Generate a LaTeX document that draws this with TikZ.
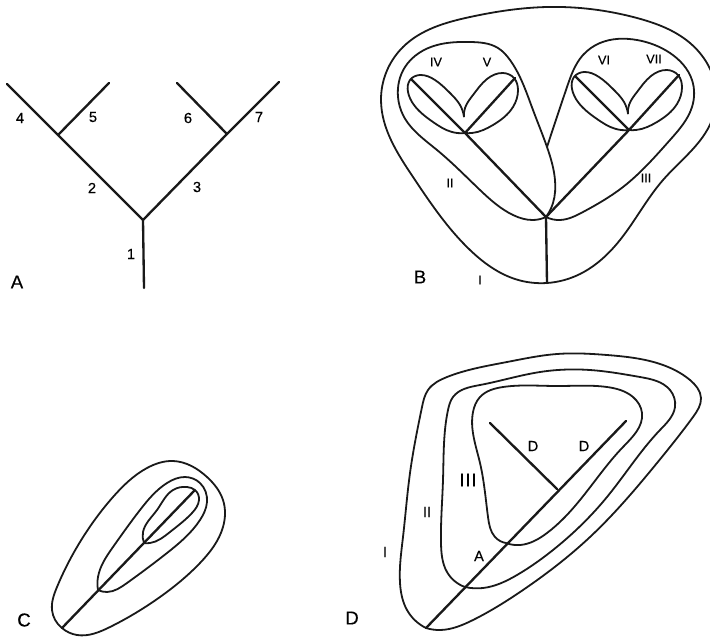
\documentclass[tikz,border=0pt]{standalone}
\usepackage{fontspec}
\usetikzlibrary{hobby}
\setmainfont{Liberation Sans}
\newfontfamily\labfont{Liberation Sans}[FakeBold=0.35]
\tikzset{
  branch/.style={line width=1.75pt,line cap=round,line join=round,black!90},
  outline/.style={line width=1.35pt,line join=round,black!90,use Hobby shortcut},
  lab/.style={inner sep=0pt,font=\labfont\fontsize{11}{12}\selectfont},
  roman/.style={inner sep=0pt,font=\labfont\fontsize{9.5}{10}\selectfont},
  panel/.style={inner sep=0pt,font=\labfont\fontsize{14}{15}\selectfont}
}
\newcommand{\leafpair}{%
  \coordinate (lj) at (465,133);
  \coordinate (lt1) at (412,80);
  \coordinate (lt2) at (515,78);
  \coordinate (ln) at (464,117);
  \draw[branch] (lj) -- (lt1);
  \draw[branch] (lj) -- (lt2);
  \draw[outline] (ln) .. (460,105) .. (450,93) .. (435,80) .. (420,75) .. (410,80) .. (408,92) .. (414,105) .. (433,122) .. (452,132) .. (lj);
  \draw[outline] (lj) .. (472,133) .. (493,125) .. (513,107) .. (518,90) .. (514,78) .. (503,73) .. (487,79) .. (473,95) .. (465,108) .. (ln);
}
\begin{document}
\begin{tikzpicture}[x=0.75pt,y=-0.75pt]
\useasboundingbox (0,0) rectangle (710,636);
% A
\coordinate (a0) at (144,288); \coordinate (a1) at (143,220);
\coordinate (a2) at (58,135); \coordinate (a3) at (227,134);
\coordinate (a4) at (7,84); \coordinate (a5) at (109,83);
\coordinate (a6) at (177,83); \coordinate (a7) at (279,82);
\draw[branch] (a0) -- (a1);
\draw[branch] (a4) -- (a2) -- (a1) -- (a3) -- (a7);
\draw[branch] (a2) -- (a5);
\draw[branch] (a3) -- (a6);
\node[lab] (n4) at (20,118) {4};
\node[lab] (n5) at (93,117) {5};
\node[lab] (n6) at (188,118) {6};
\node[lab] (n7) at (259,117) {7};
\node[lab] (n2) at (92,188) {2};
\node[lab] (n3) at (197,187) {3};
\node[lab] (n1) at (131,254) {1};
\node[panel] (pa) at (17,282) {A};
% B
\coordinate (b0) at (547,283); \coordinate (bj) at (546,217);
\draw[outline,closed=true] (547,283) .. (515,279) .. (470,250) .. (413,177) .. (381,100) .. (403,47) .. (470,17) .. (547,7) .. (637,18) .. (690,43) .. (716,90) .. (712,120) .. (663,180) .. (620,240) .. (580,274);
\draw[outline] (bj) .. (533,220) .. (513,215) .. (480,190) .. (437,150) .. (403,115) .. (398,97) .. (405,67) .. (437,45) .. (470,42) .. (498,48) .. (510,60) .. (533,110) .. (547,147) .. (555,180) .. (553,203) .. (bj);
\draw[outline] (bj) .. (560,220) .. (583,212) .. (623,187) .. (670,140) .. (692,107) .. (692,80) .. (670,53) .. (637,40) .. (600,43) .. (583,55) .. (567,87) .. (547,147);
\draw[branch] (b0) -- (bj);
\draw[branch] (465,133) -- (bj) -- (629,130);
\leafpair
\begin{scope}[shift={(164,-3)}]
\leafpair
\end{scope}
\node[roman] (biv) at (436,62) {IV};
\node[roman] (bv) at (487,62) {V};
\node[roman] (bvi) at (604,60) {VI};
\node[roman] (bvii) at (654,59) {VII};
\node[roman] (bii) at (450,183) {II};
\node[roman] (biii) at (646,178) {III};
\node[roman] (bi) at (480,280) {I};
\node[panel] (pb) at (420,277) {B};
% C
\coordinate (c0) at (62,628); \coordinate (c1) at (98,590);
\coordinate (c2) at (144,543); \coordinate (c3) at (194,491);
\draw[outline] (c0) .. (77,635) .. (110,627) .. (160,597) .. (200,563) .. (223,527) .. (223,500) .. (207,477) .. (173,461) .. (147,468) .. (113,497) .. (77,547) .. (57,587) .. (52,610) .. (c0);
\draw[outline] (c1) .. (107,592) .. (127,583) .. (167,553) .. (200,520) .. (207,502) .. (200,483) .. (185,477) .. (167,483) .. (140,510) .. (113,547) .. (98,577) .. (c1);
\draw[outline] (c2) .. (150,543) .. (170,532) .. (192,513) .. (199,500) .. (195,490) .. (187,487) .. (173,490) .. (157,510) .. (143,532) .. (c2);
\draw[branch] (c0) -- (c3);
\node[panel] (pc) at (24,620) {C};
% D
\coordinate (d0) at (426,628); \coordinate (d1) at (465,587);
\coordinate (d2) at (506,543); \coordinate (d3) at (557,489);
\coordinate (d4) at (626,421); \coordinate (d5) at (490,423);
\draw[outline] (d0) .. (440,630) .. (473,620) .. (523,590) .. (590,537) .. (657,463) .. (693,417) .. (701,398) .. (690,380) .. (657,363) .. (607,355) .. (557,354) .. (507,362) .. (447,377) .. (428,390) .. (422,407) .. (410,473) .. (403,537) .. (400,583) .. (407,610) .. (d0);
\draw[outline] (d1) .. (483,588) .. (517,575) .. (553,550) .. (607,497) .. (660,430) .. (675,407) .. (670,390) .. (640,377) .. (590,370) .. (540,372) .. (480,385) .. (453,397) .. (448,410) .. (443,480) .. (441,543) .. (447,572) .. (d1);
\draw[outline] (d2) .. (520,545) .. (547,533) .. (580,500) .. (623,447) .. (642,413) .. (633,397) .. (607,387) .. (557,386) .. (503,387) .. (480,397) .. (473,412) .. (480,463) .. (488,517) .. (495,537) .. (d2);
\draw[branch] (d0) -- (d4);
\draw[branch] (d5) -- (d3);
\node[lab] (dd1) at (533,446) {D};
\node[lab] (dd2) at (584,446) {D};
\node[panel] (diii) at (468,480) {I\kern0.6pt I\kern0.6pt I};
\node[lab] (dii) at (427,512) {II};
\node[lab] (di) at (385,552) {I};
\node[lab] (da) at (479,556) {A};
\node[panel] (pd) at (352,618) {D};
\end{tikzpicture}
\end{document}
